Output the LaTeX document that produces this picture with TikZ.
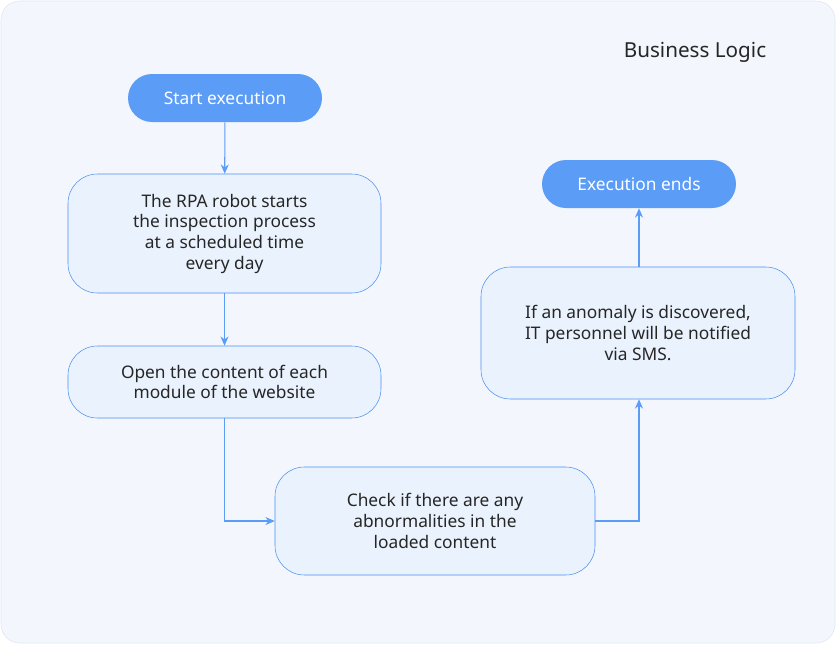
\documentclass[tikz,border=0pt]{standalone}
\usepackage{fontspec}
\setmainfont{Noto Sans}
\usetikzlibrary{positioning,arrows.meta}
\definecolor{bgfill}{HTML}{F3F7FD}
\definecolor{bgline}{HTML}{DCE6F2}
\definecolor{pillblue}{HTML}{5B9CF6}
\definecolor{boxfill}{HTML}{EAF2FD}
\definecolor{boxline}{HTML}{4A8FF0}
\definecolor{arrowblue}{HTML}{5B9CF6}
\begin{document}
\begin{tikzpicture}[x=0.75pt,y=-0.75pt]

\tikzstyle{pill}=[rectangle, rounded corners=18pt, fill=pillblue, text=white, font=\fontsize{13}{16}\selectfont, inner sep=0pt]
\tikzstyle{task}=[rectangle, rounded corners=22pt, draw=boxline, fill=boxfill, text=black!85, font=\fontsize{13}{15.5}\selectfont, align=center, inner sep=0pt]
\tikzstyle{flow}=[draw=arrowblue, line width=0.8pt, -{Stealth[length=7pt,width=6pt]}]

\useasboundingbox (0,0) rectangle (836,644);
\draw [fill=bgfill, draw=bgline, rounded corners=14pt] (1,1) rectangle (835,643);

\node (title) at (695,52) [font=\fontsize{15.5}{18}\selectfont, text=black!85] {Business Logic};

\node (start) at (225,98) [pill, minimum width=145.5pt, minimum height=36pt] {Start execution};
\node (robot) at (224.5,233.5) [task, minimum width=234.75pt, minimum height=89.25pt] {The RPA robot starts\\the inspection process\\at a scheduled time\\every day};
\node (open) at (224.5,382) [task, minimum width=234.75pt, minimum height=54pt] {Open the content of each\\module of the website};
\node (check) at (435,521) [task, minimum width=240pt, minimum height=81pt] {Check if there are any\\abnormalities in the\\loaded content};
\node (notify) at (638,333) [task, minimum width=235.5pt, minimum height=99pt] {If an anomaly is discovered,\\IT personnel will be notified\\via SMS.};
\node (finish) at (639,184) [pill, minimum width=145.5pt, minimum height=36pt] {Execution ends};

\draw [flow] (start) -- (robot);
\draw [flow] (robot) -- (open);
\draw [flow] (open.south) |- (check.west);
\draw [flow] (check.east) -| (notify.south -| finish.south);
\draw [flow] (notify.north -| finish.south) -- (finish.south);

\end{tikzpicture}
\end{document}
